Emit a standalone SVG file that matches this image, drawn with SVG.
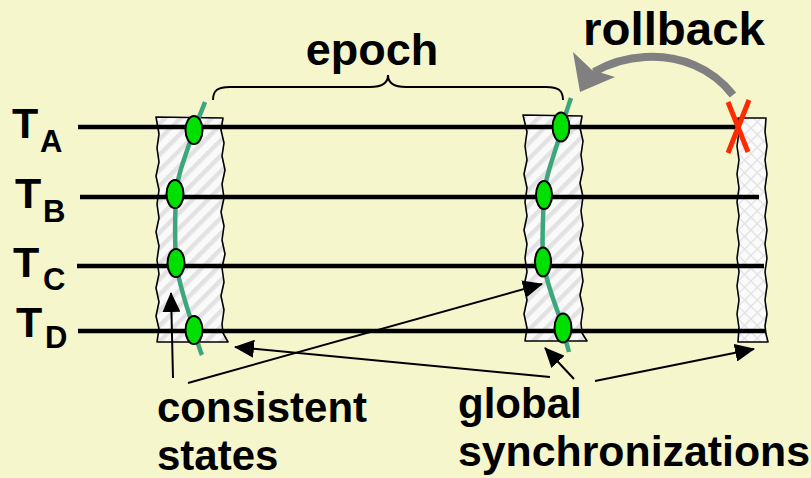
<svg xmlns="http://www.w3.org/2000/svg" width="811" height="478" viewBox="0 0 811 478">
  <defs>
    <style>
      .lbl { font-family: "Liberation Sans", Arial, sans-serif; font-weight: bold; fill: #000; }
      .big { font-size: 43px; }
      .sub { font-size: 31px; }
      .note { font-size: 42px; }
      .thread { stroke: #000; stroke-width: 4.5; fill: none; }
      .band { stroke: #000; stroke-width: 1.6; stroke-linejoin: round; }
      .cut { stroke: #3DA67C; stroke-width: 4.5; fill: none; stroke-linecap: butt; }
      .state { fill: #00E000; stroke: #000; stroke-width: 2; }
      .ptr { stroke: #000; stroke-width: 2; fill: none; marker-end: url(#head); }
    </style>
    <pattern id="hatch" patternUnits="userSpaceOnUse" width="11" height="11" patternTransform="rotate(45)">
      <rect width="11" height="11" fill="#FAFAFA"/>
      <rect x="0" y="0" width="4.5" height="11" fill="#E2E2E2"/>
    </pattern>
    <pattern id="grid" patternUnits="userSpaceOnUse" width="9" height="9" patternTransform="rotate(45)">
      <rect width="9" height="9" fill="#FBFBFB"/>
      <path d="M0,0.6 H9 M0.6,0 V9" stroke="#E0E0E0" stroke-width="1.4"/>
    </pattern>
    <marker id="head" markerUnits="userSpaceOnUse" markerWidth="20" markerHeight="18" refX="19" refY="9" orient="auto">
      <path d="M0,0 L20,9 L0,18 Z" fill="#000"/>
    </marker>
  </defs>

  <rect width="811" height="478" fill="#F6F6CD"/>

  <!-- synchronization bands -->
  <g id="sync-1">
    <path class="band" fill="url(#hatch)" d="M156,117 L223,118 L221,130 L224,143 L222,156 L225,170 L222,184 L224,198 L221,212 L224,226 L222,240 L225,254 L222,268 L224,282 L221,296 L224,310 L222,324 L223,333 L228,342 L157,342 L159,329 L156,316 L159,302 L156,288 L159,274 L157,260 L159,246 L156,232 L159,218 L157,204 L159,190 L156,176 L159,162 L157,148 L159,134 Z"/>
  </g>
  <g id="sync-2">
    <path class="band" fill="url(#hatch)" d="M523,115 L582,116 L580,128 L583,141 L581,155 L583,169 L580,183 L583,197 L581,211 L583,225 L580,239 L583,253 L581,267 L583,281 L580,295 L583,309 L581,323 L582,333 L587,341 L525,341 L527,328 L524,314 L527,300 L524,286 L527,272 L525,258 L527,244 L524,230 L527,216 L525,202 L527,188 L524,174 L527,160 L525,146 L527,132 Z"/>
  </g>
  <g id="sync-3">
    <path class="band" fill="url(#grid)" d="M738,118 L766,118 L765,132 L767,146 L765,160 L767,174 L765,188 L767,202 L765,216 L767,230 L765,244 L767,258 L765,272 L767,286 L765,300 L767,314 L765,326 L766,334 L768,342 L738,342 L739,328 L737,314 L739,300 L737,286 L739,272 L737,258 L739,244 L737,230 L739,216 L737,202 L739,188 L737,174 L739,160 L737,146 L739,132 Z"/>
  </g>

  <!-- threads -->
  <g id="thread-A">
    <line class="thread" x1="78" y1="127" x2="737" y2="127"/>
    <text class="lbl big" x="12" y="138">T</text>
    <text class="lbl sub" x="40" y="152">A</text>
  </g>
  <g id="thread-B">
    <line class="thread" x1="80" y1="197" x2="759" y2="197"/>
    <text class="lbl big" x="15" y="208">T</text>
    <text class="lbl sub" x="43" y="222">B</text>
  </g>
  <g id="thread-C">
    <line class="thread" x1="77" y1="266" x2="764" y2="266"/>
    <text class="lbl big" x="13" y="277">T</text>
    <text class="lbl sub" x="43" y="290">C</text>
  </g>
  <g id="thread-D">
    <line class="thread" x1="78" y1="331" x2="765" y2="331"/>
    <text class="lbl big" x="16" y="337">T</text>
    <text class="lbl sub" x="45" y="348">D</text>
  </g>

  <!-- consistent cuts with per-thread states -->
  <g id="cut-1">
    <path class="cut" d="M205,102 C201,113 197,121 194,130 C186,155 177,175 176,195 C175,215 175,245 176,263 C180,290 190,315 194,330 C197,340 199,348 202,355"/>
    <ellipse class="state" cx="194" cy="130" rx="8.5" ry="14"/>
    <ellipse class="state" cx="175" cy="194" rx="8.5" ry="14"/>
    <ellipse class="state" cx="176" cy="263" rx="8.5" ry="14"/>
    <ellipse class="state" cx="194" cy="330" rx="8.5" ry="14"/>
  </g>
  <g id="cut-2">
    <path class="cut" d="M571,98 C567,110 564,118 562,127 C555,155 545,175 544,195 C543,215 542,245 543,262 C548,290 558,310 563,328 C565,338 567,345 569,352"/>
    <ellipse class="state" cx="561" cy="127" rx="8.5" ry="14.5"/>
    <ellipse class="state" cx="544" cy="195" rx="8" ry="14"/>
    <ellipse class="state" cx="543" cy="262" rx="8" ry="14.5"/>
    <ellipse class="state" cx="563" cy="328" rx="8.5" ry="14.5"/>
  </g>

  <!-- failure mark -->
  <g id="failure">
    <path d="M728,102 L748,152 M749,100 L728,153" stroke="#FF2A00" stroke-width="5" fill="none"/>
  </g>

  <!-- epoch brace -->
  <g id="epoch">
    <path d="M213,100 C213,90 218,87 230,87 L370,87 C382,87 388,83 388,75 C388,83 394,87 406,87 L546,87 C558,87 563,90 563,100" stroke="#000" stroke-width="2" fill="none"/>
    <text class="lbl" x="372" y="65" font-size="45" text-anchor="middle">epoch</text>
  </g>

  <!-- rollback -->
  <g id="rollback">
    <text class="lbl" x="583" y="45" font-size="46" textLength="182" lengthAdjust="spacingAndGlyphs">rollback</text>
    <path d="M733,95 C712,68 680,55 645,57 C625,58 608,64 594,72" stroke="#808080" stroke-width="8" fill="none"/>
    <path d="M580,92 L573,52 L592,70 L615,77 Z" fill="#808080"/>
  </g>

  <!-- connectors -->
  <g id="connectors">
    <line class="ptr" x1="173" y1="378" x2="171" y2="293"/>
    <line class="ptr" x1="188" y1="383" x2="542" y2="284"/>
    <line class="ptr" x1="550" y1="377" x2="235" y2="347"/>
    <line class="ptr" x1="574" y1="379" x2="545" y2="348"/>
    <line class="ptr" x1="595" y1="381" x2="754" y2="349"/>
  </g>

  <!-- annotations -->
  <g id="label-consistent">
    <text class="lbl note" x="157" y="422">consistent</text>
    <text class="lbl note" x="157" y="470">states</text>
  </g>
  <g id="label-global">
    <text class="lbl note" x="458" y="418">global</text>
    <text class="lbl note" x="458" y="466" textLength="352" lengthAdjust="spacingAndGlyphs">synchronizations</text>
  </g>
</svg>
